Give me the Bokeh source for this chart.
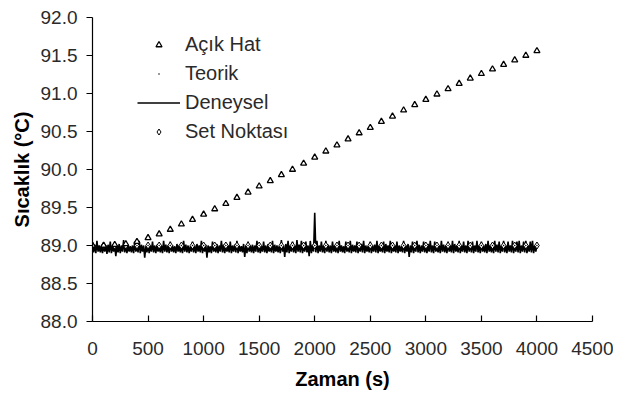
from bokeh.plotting import figure
from bokeh.models import Range1d, Legend, LegendItem, FixedTicker, CustomJSTickFormatter
from bokeh.embed import file_html
from bokeh.resources import INLINE

# Açık Hat (open loop), every 100 s
acik_t = list(range(0, 4001, 100))
acik_T = [89.00, 89.00, 89.01, 89.02, 89.05, 89.10, 89.15, 89.21, 89.28, 89.34,
          89.41, 89.48, 89.55, 89.63, 89.70, 89.78, 89.85, 89.93, 90.00, 90.08,
          90.16, 90.24, 90.32, 90.40, 90.48, 90.55, 90.63, 90.70, 90.78, 90.85,
          90.92, 90.99, 91.06, 91.13, 91.20, 91.26, 91.32, 91.38, 91.44, 91.50,
          91.56]

# Set Noktası and Teorik, every 100 s
set_t = list(range(0, 4001, 100))
set_T = [89.0] * len(set_t)
teorik_T = [89.0] * len(set_t)

# Deneysel (experimental), every 10 s
den_t = list(range(0, 4001, 10))
den_T = [
    89.00, 88.91, 89.01, 88.90, 89.06, 88.92, 89.00, 88.91, 88.99, 88.90,
    89.02, 88.92, 89.00, 88.89, 89.01, 88.91, 89.05, 88.90, 89.00, 88.92,
    88.99, 88.86, 89.00, 88.91, 89.02, 88.90, 89.00, 88.92, 89.07, 88.91,
    89.00, 88.90, 89.01, 88.92, 88.99, 88.91, 89.00, 88.90, 89.05, 88.92,
    89.00, 88.91, 89.06, 88.90, 89.01, 88.92, 89.00, 88.84, 88.99, 88.91,
    89.02, 88.90, 89.00, 88.92, 89.05, 88.91, 89.00, 88.90, 89.01, 88.92,
    88.99, 88.91, 89.00, 88.90, 89.06, 88.92, 89.01, 88.91, 89.00, 88.90,
    89.05, 88.92, 89.00, 88.91, 88.99, 88.90, 89.02, 88.92, 89.00, 88.91,
    89.00, 88.90, 89.06, 88.92, 89.01, 88.91, 89.00, 88.90, 88.99, 88.92,
    89.05, 88.91, 89.00, 88.90, 89.02, 88.92, 89.00, 88.91, 89.06, 88.90,
    89.00, 88.92, 89.01, 88.84, 89.00, 88.91, 88.99, 88.90, 89.05, 88.92,
    89.00, 88.91, 89.02, 88.90, 89.00, 88.92, 89.06, 88.91, 89.01, 88.90,
    88.99, 88.92, 89.00, 88.91, 89.05, 88.90, 89.00, 88.92, 89.01, 88.91,
    89.06, 88.90, 89.00, 88.92, 88.99, 88.91, 89.02, 88.85, 89.00, 88.90,
    89.05, 88.92, 89.00, 88.91, 89.01, 88.90, 89.00, 88.92, 89.06, 88.91,
    89.00, 88.90, 88.99, 88.92, 89.05, 88.91, 89.00, 88.90, 89.02, 88.92,
    89.00, 88.91, 89.06, 88.90, 89.01, 88.92, 89.00, 88.91, 88.99, 88.90,
    89.07, 88.92, 89.00, 88.85, 89.02, 88.91, 89.06, 88.90, 89.00, 88.92,
    89.05, 88.91, 89.00, 88.90, 89.07, 88.92, 89.01, 88.91, 89.06, 88.90,
    89.00, 88.92, 89.05, 88.91, 89.00, 88.86, 89.06, 88.90, 89.01, 88.92,
    89.43, 88.91, 89.06, 88.90, 89.00, 88.92, 89.05, 88.91, 89.00, 88.90,
    89.06, 88.92, 89.01, 88.91, 89.00, 88.90, 89.05, 88.92, 89.00, 88.91,
    89.02, 88.90, 89.06, 88.92, 89.00, 88.91, 88.99, 88.90, 89.05, 88.92,
    89.00, 88.91, 89.06, 88.90, 89.01, 88.92, 89.00, 88.91, 89.05, 88.90,
    89.00, 88.92, 89.02, 88.91, 89.06, 88.90, 89.00, 88.92, 88.99, 88.91,
    89.05, 88.90, 89.00, 88.92, 89.01, 88.91, 89.06, 88.90, 89.00, 88.92,
    89.00, 88.91, 89.05, 88.90, 89.02, 88.92, 89.00, 88.91, 89.06, 88.90,
    89.01, 88.92, 89.00, 88.91, 89.05, 88.90, 89.00, 88.92, 88.99, 88.91,
    89.06, 88.90, 89.00, 88.92, 89.02, 88.85, 89.00, 88.91, 89.05, 88.90,
    89.00, 88.92, 89.06, 88.91, 89.01, 88.90, 89.00, 88.92, 89.05, 88.91,
    89.00, 88.90, 89.02, 88.92, 89.06, 88.91, 89.00, 88.90, 89.05, 88.92,
    88.99, 88.91, 89.00, 88.90, 89.06, 88.92, 89.01, 88.91, 89.00, 88.90,
    89.05, 88.92, 89.00, 88.91, 89.06, 88.90, 89.02, 88.92, 89.00, 88.91,
    89.06, 88.90, 89.00, 88.92, 89.05, 88.91, 89.00, 88.90, 89.06, 88.92,
    89.01, 88.91, 89.05, 88.90, 89.00, 88.92, 89.06, 88.91, 89.00, 88.90,
    89.05, 88.92, 89.00, 88.91, 89.02, 88.90, 89.06, 88.92, 89.00, 88.91,
    89.00, 88.90, 89.06, 88.92, 89.01, 88.91, 89.05, 88.90, 89.00, 88.92,
    89.06, 88.91, 89.00, 88.90, 89.05, 88.92, 89.00, 88.91, 89.06, 88.90,
    89.00, 88.92, 89.05, 88.91, 89.06, 88.90, 89.00, 88.92, 89.05, 88.91,
    89.06, 88.90, 89.00, 88.92, 89.05, 88.91, 89.06, 88.90, 89.00, 88.92,
    89.00,
]

x_ticks = [0, 500, 1000, 1500, 2000, 2500, 3000, 3500, 4000, 4500]
y_ticks = [88.0, 88.5, 89.0, 89.5, 90.0, 90.5, 91.0, 91.5, 92.0]

FONT = "Liberation Sans"
TXT = "#2a2a2a"

p = figure(width=613, height=392, output_backend="svg", toolbar_location=None,
           x_range=Range1d(0, 4500), y_range=Range1d(88.0, 92.0),
           min_border_left=92, min_border_right=21, min_border_top=17,
           min_border_bottom=69)
p.outline_line_color = None
p.grid.visible = False
p.background_fill_color = "white"
p.border_fill_color = "white"

r_den = p.line(den_t, den_T, line_color="black", line_width=1.6)
r_set = p.scatter(set_t, set_T, marker="diamond", size=7, fill_color="white",
                  line_color="black", line_width=1)
r_teo = p.scatter(set_t, teorik_T, marker="dot", size=6, fill_color="black",
                  line_color="black")
r_acik = p.scatter(acik_t, acik_T, marker="triangle", size=6, fill_color="white",
                   line_color="black", line_width=1.3)

p.xaxis.ticker = FixedTicker(ticks=x_ticks)
p.yaxis.ticker = FixedTicker(ticks=y_ticks)
p.yaxis.formatter = CustomJSTickFormatter(code="return tick.toFixed(1);")
p.xaxis.minor_tick_line_color = None
p.yaxis.minor_tick_line_color = None
p.xaxis.major_tick_in = 6
p.xaxis.major_tick_out = 0
p.yaxis.major_tick_in = 0
p.yaxis.major_tick_out = 6
for ax in (p.xaxis, p.yaxis):
    ax.axis_line_color = "black"
    ax.axis_line_width = 1.2
    ax.major_tick_line_color = "black"
    ax.major_tick_line_width = 1.2
    ax.major_label_text_font = FONT
    ax.major_label_text_font_size = "19px"
    ax.major_label_text_color = TXT
    ax.axis_label_text_font = FONT
    ax.axis_label_text_font_size = "20px"
    ax.axis_label_text_font_style = "bold"
    ax.axis_label_text_color = "black"
p.xaxis.axis_label = "Zaman (s)"
p.yaxis.axis_label = "Sıcaklık (°C)"
p.xaxis.major_label_standoff = 20
p.xaxis.axis_label_standoff = 10
p.yaxis.major_label_standoff = 9
p.yaxis.axis_label_standoff = 5

legend = Legend(items=[
    LegendItem(label="Açık Hat", renderers=[r_acik]),
    LegendItem(label="Teorik", renderers=[r_teo]),
    LegendItem(label="Deneysel", renderers=[r_den]),
    LegendItem(label="Set Noktası", renderers=[r_set]),
], location=(45, 175))
legend.border_line_color = None
legend.background_fill_alpha = 0
legend.padding = 0
legend.margin = 0
legend.spacing = 0
legend.glyph_width = 43
legend.glyph_height = 15
legend.label_height = 29
legend.label_standoff = 5
legend.label_text_font = FONT
legend.label_text_font_size = "20px"
legend.label_text_color = TXT
p.add_layout(legend, "center")

open("out.html", "w").write(file_html(p, INLINE))
